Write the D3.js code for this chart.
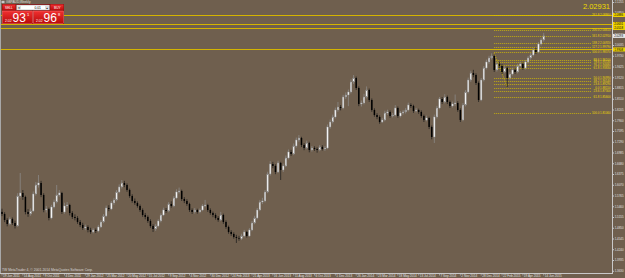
<!DOCTYPE html>
<html>
<head>
<meta charset="utf-8">
<script src="https://cdn.jsdelivr.net/npm/d3@7"></script>
<style>
  html, body { margin: 0; padding: 0; background: #6f5f4e; }
  svg { display: block; }
  text { font-family: "Liberation Sans", "DejaVu Sans", sans-serif; }
</style>
</head>
<body>
<div id="chart"></div>
<script>
// GBPAUD weekly bars, 19 Jun 2011 .. 14 Jun 2015 (open = previous close)
var firstOpen = 1.5300;
var closes = [
  1.5241, 1.5071, 1.4957, 1.5099, 1.4985, 1.4900, 1.5751, 1.5837, 1.5723, 1.5298,
  1.5241, 1.5326, 1.5808, 1.6064, 1.6120, 1.5780, 1.5354, 1.5383, 1.5127, 1.5439,
  1.5581, 1.5780, 1.5837, 1.5298, 1.5468, 1.5496, 1.5269, 1.5156, 1.5127, 1.5014,
  1.4929, 1.4844, 1.4872, 1.4787, 1.4730, 1.4787, 1.4759, 1.4872, 1.5014, 1.5184,
  1.5411, 1.5383, 1.5553, 1.5638, 1.5865, 1.6007, 1.6120, 1.6064, 1.5922, 1.5751,
  1.5610, 1.5553, 1.5468, 1.5354, 1.5212, 1.5156, 1.5042, 1.4900, 1.4815, 1.4900,
  1.5042, 1.5212, 1.5354, 1.5326, 1.5525, 1.5468, 1.5695, 1.5865, 1.5893, 1.5666,
  1.5610, 1.5525, 1.5354, 1.5298, 1.5354, 1.5298, 1.5354, 1.5468, 1.5496, 1.5354,
  1.5269, 1.5212, 1.5127, 1.5071, 1.5212, 1.5014, 1.4872, 1.4730, 1.4673, 1.4588,
  1.4560, 1.4545, 1.4617, 1.4730, 1.4617, 1.4787, 1.4985, 1.5127, 1.5354, 1.5581,
  1.5610, 1.5865, 1.6376, 1.6659, 1.6603, 1.6432, 1.6688, 1.6489, 1.6603, 1.6830,
  1.7000, 1.6943, 1.7170, 1.7340, 1.7397, 1.7198, 1.7113, 1.7255, 1.7056, 1.7113,
  1.7085, 1.7056, 1.7142, 1.7085, 1.7113, 1.7709, 1.7851, 1.7993, 1.8191, 1.8276,
  1.8248, 1.8560, 1.8617, 1.8702, 1.8986, 1.9099, 1.8815, 1.8362, 1.8390, 1.8560,
  1.8759, 1.8475, 1.8191, 1.8049, 1.7993, 1.7851, 1.7908, 1.8106, 1.8135, 1.8021,
  1.8049, 1.8248, 1.8021, 1.8106, 1.8135, 1.8191, 1.8333, 1.8305, 1.8163, 1.8191,
  1.8135, 1.8021, 1.7908, 1.7964, 1.7709, 1.7425, 1.7993, 1.8248, 1.8503, 1.8418,
  1.8560, 1.8418, 1.8305, 1.8362, 1.8390, 1.8191, 1.7908, 1.8333, 1.8702, 1.9042,
  1.9241, 1.9184, 1.8957, 1.8475, 1.9042, 1.9383, 1.9553, 1.9667, 1.9723, 1.9326,
  1.9496, 1.9440, 1.9269, 1.9383, 1.9099, 1.9213, 1.9326, 1.9269, 1.9440, 1.9496,
  1.9383, 1.9553, 1.9667, 1.9752, 1.9893, 1.9837, 2.0064, 2.0177, 2.0293
];
var highs = [
  1.5390, 1.5290, 1.5120, 1.5160, 1.5140, 1.5050, 1.5830, 1.6404, 1.5920, 1.5760,
  1.5380, 1.5400, 1.5880, 1.6150, 1.6347, 1.6180, 1.5830, 1.5470, 1.5420, 1.5500,
  1.5650, 1.6064, 1.5920, 1.5870, 1.5560, 1.5580, 1.5530, 1.5320, 1.5230, 1.5180,
  1.5070, 1.4990, 1.4940, 1.4920, 1.4850, 1.4840, 1.4830, 1.4930, 1.5070, 1.5240,
  1.5480, 1.5490, 1.5610, 1.5700, 1.5920, 1.6080, 1.6205, 1.6180, 1.6110, 1.5960,
  1.5800, 1.5680, 1.5600, 1.5510, 1.5400, 1.5270, 1.5200, 1.5090, 1.4950, 1.4960,
  1.5090, 1.5260, 1.5420, 1.5410, 1.5580, 1.5600, 1.5750, 1.5940, 1.5990, 1.5930,
  1.5720, 1.5660, 1.5560, 1.5400, 1.5410, 1.5390, 1.5400, 1.5520, 1.5640, 1.5530,
  1.5400, 1.5310, 1.5260, 1.5180, 1.5300, 1.5250, 1.5060, 1.4910, 1.4780, 1.4720,
  1.4650, 1.4620, 1.4680, 1.4790, 1.4760, 1.4840, 1.5040, 1.5190, 1.5410, 1.5640,
  1.5700, 1.5920, 1.6440, 1.6740, 1.6720, 1.6650, 1.6750, 1.6720, 1.6670, 1.6900,
  1.7070, 1.7060, 1.7240, 1.7410, 1.7480, 1.7430, 1.7250, 1.7320, 1.7290, 1.7170,
  1.7160, 1.7130, 1.7200, 1.7190, 1.7170, 1.7780, 1.7920, 1.8060, 1.8260, 1.8420,
  1.8330, 1.8620, 1.8690, 1.8770, 1.9060, 1.9184, 1.9140, 1.8860, 1.8460, 1.8650,
  1.8860, 1.8800, 1.8520, 1.8240, 1.8100, 1.8040, 1.7970, 1.8170, 1.8200, 1.8180,
  1.8110, 1.8330, 1.8290, 1.8160, 1.8190, 1.8250, 1.8400, 1.8380, 1.8340, 1.8250,
  1.8230, 1.8180, 1.8060, 1.8030, 1.8000, 1.7750, 1.8060, 1.8310, 1.8560, 1.8560,
  1.8640, 1.8600, 1.8460, 1.8430, 1.8630, 1.8440, 1.8240, 1.8390, 1.8760, 1.9110,
  1.9300, 1.9330, 1.9230, 1.9000, 1.9100, 1.9440, 1.9620, 1.9730, 1.9800, 1.9760,
  1.9560, 1.9560, 1.9490, 1.9440, 1.9420, 1.9270, 1.9390, 1.9380, 1.9500, 1.9560,
  1.9540, 1.9610, 1.9720, 1.9810, 1.9950, 1.9960, 2.0120, 2.0240, 2.0380
];
var lows = [
  1.5180, 1.5010, 1.4890, 1.4920, 1.4930, 1.4830, 1.4880, 1.5700, 1.5640, 1.5230,
  1.5160, 1.5190, 1.5290, 1.5760, 1.5990, 1.5720, 1.5290, 1.5280, 1.5060, 1.5090,
  1.5400, 1.5540, 1.5730, 1.5240, 1.5250, 1.5410, 1.5200, 1.5100, 1.5060, 1.4960,
  1.4870, 1.4790, 1.4780, 1.4720, 1.4680, 1.4690, 1.4700, 1.4720, 1.4840, 1.4980,
  1.5150, 1.5320, 1.5350, 1.5500, 1.5600, 1.5830, 1.5960, 1.6000, 1.5870, 1.5700,
  1.5560, 1.5500, 1.5420, 1.5300, 1.5160, 1.5090, 1.4990, 1.4850, 1.4730, 1.4760,
  1.4860, 1.5000, 1.5180, 1.5270, 1.5290, 1.5420, 1.5430, 1.5660, 1.5820, 1.5610,
  1.5550, 1.5470, 1.5300, 1.5240, 1.5250, 1.5250, 1.5260, 1.5320, 1.5430, 1.5300,
  1.5220, 1.5150, 1.5080, 1.5020, 1.5040, 1.4960, 1.4820, 1.4680, 1.4620, 1.4540,
  1.4418, 1.4480, 1.4500, 1.4580, 1.4570, 1.4590, 1.4750, 1.4950, 1.5090, 1.5320,
  1.5520, 1.5570, 1.5830, 1.6330, 1.6540, 1.6370, 1.6400, 1.6205, 1.6430, 1.6570,
  1.6790, 1.6890, 1.6910, 1.7120, 1.7290, 1.7140, 1.7050, 1.7080, 1.6990, 1.7010,
  1.7030, 1.6980, 1.7020, 1.7040, 1.7030, 1.7080, 1.7660, 1.7810, 1.7950, 1.8140,
  1.8180, 1.8210, 1.8500, 1.8300, 1.8660, 1.8930, 1.8760, 1.8300, 1.8290, 1.8350,
  1.8520, 1.8420, 1.8140, 1.8000, 1.7930, 1.7800, 1.7820, 1.7870, 1.8050, 1.7970,
  1.7980, 1.8010, 1.7970, 1.7980, 1.8060, 1.8090, 1.8150, 1.8250, 1.8110, 1.8120,
  1.8080, 1.7970, 1.7850, 1.7870, 1.7650, 1.7360, 1.7255, 1.7950, 1.8210, 1.8360,
  1.8380, 1.8360, 1.8250, 1.8260, 1.8300, 1.8140, 1.7850, 1.7870, 1.8290, 1.8660,
  1.8990, 1.9120, 1.8900, 1.8418, 1.8440, 1.9000, 1.9340, 1.9500, 1.9620, 1.9270,
  1.9280, 1.9380, 1.9210, 1.9230, 1.8844, 1.9050, 1.9170, 1.9210, 1.9230, 1.9400,
  1.9330, 1.9340, 1.9510, 1.9620, 1.9710, 1.9780, 1.9800, 2.0020, 2.0130
];

// time axis labels, one every 8 bars
var timeLabels = [
  "19 Jun 2011", "14 Aug 2011", "9 Oct 2011", "4 Dec 2011", "29 Jan 2012",
  "25 Mar 2012", "20 May 2012", "15 Jul 2012", "9 Sep 2012", "4 Nov 2012",
  "30 Dec 2012", "24 Feb 2013", "21 Apr 2013", "16 Jun 2013", "11 Aug 2013",
  "6 Oct 2013", "1 Dec 2013", "26 Jan 2014", "23 Mar 2014", "18 May 2014",
  "13 Jul 2014", "7 Sep 2014", "2 Nov 2014", "28 Dec 2014", "22 Feb 2015",
  "19 Apr 2015", "14 Jun 2015"
];
var labelEvery = 8;

// price axis labels
var priceTicks = [
  2.1255, 2.0950, 2.0645, 2.0340, 2.0035, 1.9730, 1.9425, 1.9120, 1.8815,
  1.8510, 1.8205, 1.7900, 1.7595, 1.7290, 1.6985, 1.6680, 1.6375, 1.6070,
  1.5765, 1.5460, 1.5155, 1.4850, 1.4545, 1.4240, 1.3935, 1.3630
];

// horizontal lines drawn by hand (solid) with their axis tags
var hLines = [2.0886, 2.0631, 2.0518, 1.9908];
var bid = 2.02931, ask = 2.02968;

// fibonacci levels (dotted)
var fibNames = ["261.8", "200.0", "161.8", "138.2", "127.2", "100.0", "88.6", "78.6",
  "76.4", "61.8", "50.0", "38.2", "23.6", "0.0", "23.6", "61.8", "100.0"];
var fibPrices = [2.0886, 2.0461, 2.0291, 2.0092, 1.9979, 1.9837, 1.9610, 1.9553,
  1.9468, 1.9383, 1.9099, 1.9014, 1.8929, 1.8815, 1.8730, 1.8560, 1.8106];
var fibStart = 189, fibEnd = 194;

var W = 625, H = 278;
var plotR = 612, plotB = 273;
var bg = "#6f5f4e";

var svg = d3.select("#chart").append("svg")
  .attr("width", W).attr("height", H);

svg.append("rect").attr("width", W).attr("height", H).attr("fill", bg);

var bars = closes.map(function (c, i) {
  return { i: i, o: i ? closes[i - 1] : firstOpen, c: c, h: highs[i], l: lows[i] };
});

var x = d3.scaleLinear().domain([0, bars.length - 1]).range([2, 543.7]);
var y = d3.scaleLinear().domain([1.4240, 2.1255]).range([249.25, 2]);

var plot = svg.append("g");

// solid horizontal lines
plot.selectAll("line.hl").data(hLines).enter().append("line")
  .attr("x1", 0).attr("x2", plotR)
  .attr("y1", function (d) { return Math.round(y(d)) + 0.5; })
  .attr("y2", function (d) { return Math.round(y(d)) + 0.5; })
  .attr("stroke", "#d4b400").attr("stroke-width", 1);

// fib dotted lines + labels
var fx0 = x(fibStart);
plot.selectAll("line.fib").data(fibPrices).enter().append("line")
  .attr("x1", fx0).attr("x2", 591)
  .attr("y1", function (d) { return Math.round(y(d)) + 0.5; })
  .attr("y2", function (d) { return Math.round(y(d)) + 0.5; })
  .attr("stroke", "#d8c200").attr("stroke-width", 0.8)
  .attr("stroke-dasharray", "1,1");

plot.selectAll("text.fib").data(fibPrices).enter().append("text")
  .attr("x", 610.5).attr("y", function (d) { return y(d) + 1.1; })
  .attr("text-anchor", "end")
  .attr("font-size", 2.9).attr("fill", "#f0dc00")
  .text(function (d, k) { return fibNames[k] + " " + d.toFixed(5); });

plot.append("line")
  .attr("x1", x(fibStart)).attr("y1", y(highs[fibStart - 1]))
  .attr("x2", x(fibEnd)).attr("y2", y(lows[fibEnd]))
  .attr("stroke", "#d8c200").attr("stroke-width", 0.8)
  .attr("stroke-dasharray", "1,1");

// candles
var bw = 1.5;
var g = plot.append("g");
g.selectAll("line.wick").data(bars).enter().append("line")
  .attr("x1", function (d) { return x(d.i); })
  .attr("x2", function (d) { return x(d.i); })
  .attr("y1", function (d) { return y(d.h); })
  .attr("y2", function (d) { return y(d.l); })
  .attr("stroke", function (d) { return d.c >= d.o ? "#8f8f8f" : "#1a1a1a"; })
  .attr("stroke-width", 0.7);

g.selectAll("rect.body").data(bars).enter().append("rect")
  .attr("x", function (d) { return x(d.i) - bw / 2; })
  .attr("width", bw)
  .attr("y", function (d) { return y(Math.max(d.o, d.c)); })
  .attr("height", function (d) { return Math.max(0.7, Math.abs(y(d.o) - y(d.c))); })
  .attr("fill", function (d) { return d.c >= d.o ? "#f4f4f4" : "#000"; })
  .attr("stroke", function (d) { return d.c >= d.o ? "#8f8f8f" : "none"; })
  .attr("stroke-width", 0.4);

// big bid price at top right
svg.append("text").attr("x", 610).attr("y", 8.5).attr("text-anchor", "end")
  .attr("font-size", 7.5).attr("fill", "#f0dc00").text(bid.toFixed(5));

// frame
svg.append("line").attr("x1", plotR + 0.5).attr("x2", plotR + 0.5)
  .attr("y1", 0).attr("y2", plotB).attr("stroke", "#c8c8c8").attr("stroke-width", 1);
svg.append("line").attr("x1", 0).attr("x2", plotR + 1)
  .attr("y1", plotB + 0.5).attr("y2", plotB + 0.5).attr("stroke", "#c8c8c8").attr("stroke-width", 1);
svg.append("line").attr("x1", 0.5).attr("x2", 0.5)
  .attr("y1", 0).attr("y2", plotB).attr("stroke", "#a8a8a8").attr("stroke-width", 1);

// price axis
var yAxis = d3.axisRight(y).tickValues(priceTicks).tickSize(1.5).tickFormat(d3.format(".4f"));
var ya = svg.append("g").attr("transform", "translate(" + (plotR + 0.5) + ",0)").call(yAxis);
ya.select(".domain").remove();
ya.selectAll("line").attr("stroke", "#c8c8c8");
ya.selectAll("text").attr("font-size", 2.9).attr("fill", "#e0e0e0").attr("x", 2.2)
  .attr("font-family", "Liberation Sans, sans-serif");

// tags for solid lines on the price axis
var tags = svg.append("g");
hLines.concat([bid]).forEach(function (p, k) {
  var yy = y(p);
  tags.append("rect").attr("x", plotR + 1).attr("y", yy - 2).attr("width", W - plotR - 1)
    .attr("height", 4).attr("fill", k < hLines.length ? "#f0d400" : "#e8e8e8");
  tags.append("text").attr("x", plotR + 2.2).attr("y", yy + 1.1)
    .attr("font-size", 2.9).attr("fill", "#000").text(p.toFixed(4));
});

// time axis
var tIdx = timeLabels.map(function (t, k) { return k * labelEvery; });
var xa = svg.append("g");
xa.selectAll("line").data(tIdx).enter().append("line")
  .attr("x1", function (d) { return x(d); }).attr("x2", function (d) { return x(d); })
  .attr("y1", plotB).attr("y2", plotB + 2.5)
  .attr("stroke", "#c8c8c8").attr("stroke-width", 0.6);
xa.selectAll("text").data(tIdx).enter().append("text")
  .attr("x", function (d) { return x(d) + 1; }).attr("y", plotB + 4)
  .attr("font-size", 3.1).attr("fill", "#e0e0e0")
  .text(function (d, k) { return timeLabels[k]; });

// copyright + title
svg.append("text").attr("x", 2).attr("y", 270.5).attr("font-size", 3.4)
  .attr("fill", "#d8d8d8").text("TW MetaTrader 4, \u00a9 2001-2014 MetaQuotes Software Corp.");
svg.append("rect").attr("x", 1.5).attr("y", 0.8).attr("width", 3).attr("height", 2.4).attr("fill", "#c8c8c8");
svg.append("text").attr("x", 6).attr("y", 3.2).attr("font-size", 3.2)
  .attr("fill", "#e0e0e0").text("GBPAUD,Weekly");

// one-click trading panel
var defs = svg.append("defs");
var grad = defs.append("linearGradient").attr("id", "red").attr("x1", 0).attr("y1", 0).attr("x2", 0).attr("y2", 1);
grad.append("stop").attr("offset", "0%").attr("stop-color", "#f03030");
grad.append("stop").attr("offset", "100%").attr("stop-color", "#b80a0a");

var panel = svg.append("g");
panel.append("rect").attr("x", 2).attr("y", 4).attr("width", 62).attr("height", 20)
  .attr("fill", "#8c1010");
panel.append("rect").attr("x", 2.5).attr("y", 4.5).attr("width", 13).attr("height", 6)
  .attr("fill", "url(#red)");
panel.append("rect").attr("x", 50.5).attr("y", 4.5).attr("width", 13).attr("height", 6)
  .attr("fill", "url(#red)");
panel.append("text").attr("x", 5).attr("y", 8.6).attr("font-size", 3.2).attr("fill", "#fff").text("SELL");
panel.append("text").attr("x", 54).attr("y", 8.6).attr("font-size", 3.2).attr("fill", "#fff").text("BUY");
panel.append("rect").attr("x", 16.5).attr("y", 5).attr("width", 33).attr("height", 5)
  .attr("fill", "#fff").attr("stroke", "#777").attr("stroke-width", 0.4);
panel.append("rect").attr("x", 17).attr("y", 5.4).attr("width", 4).attr("height", 4.2).attr("fill", "#ddd");
panel.append("rect").attr("x", 45).attr("y", 5.4).attr("width", 4).attr("height", 4.2).attr("fill", "#ddd");
panel.append("text").attr("x", 19).attr("y", 8.8).attr("text-anchor", "middle").attr("font-size", 3).attr("fill", "#000").text("\u25be");
panel.append("text").attr("x", 47).attr("y", 8.8).attr("text-anchor", "middle").attr("font-size", 3).attr("fill", "#000").text("\u25b4");
panel.append("text").attr("x", 41).attr("y", 8.9).attr("text-anchor", "end").attr("font-size", 3.4).attr("fill", "#000").text("0.01");

[[2.5, bid], [33.5, ask]].forEach(function (b) {
  var s = b[1].toFixed(5);
  panel.append("rect").attr("x", b[0]).attr("y", 11).attr("width", 30).attr("height", 12.5)
    .attr("fill", "url(#red)").attr("stroke", "#ff8a8a").attr("stroke-width", 0.4);
  panel.append("text").attr("x", b[0] + 2.5).attr("y", 21.5).attr("font-size", 3.4)
    .attr("fill", "#fff").text(s.slice(0, 4));
  panel.append("text").attr("x", b[0] + 10).attr("y", 22).attr("font-size", 12)
    .attr("fill", "#fff").text(s.slice(4, 6));
  panel.append("text").attr("x", b[0] + 24.5).attr("y", 15.5).attr("font-size", 4)
    .attr("fill", "#fff").text(s.slice(6));
});
</script>
</body>
</html>
